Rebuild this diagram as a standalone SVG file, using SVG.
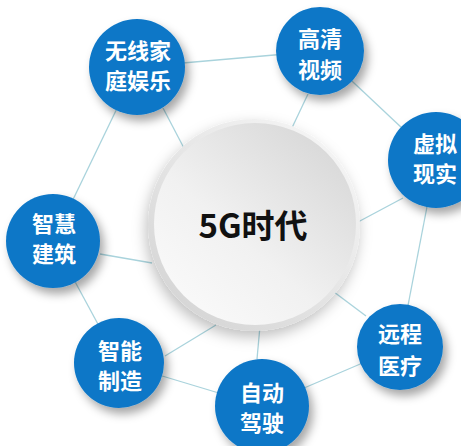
<svg xmlns="http://www.w3.org/2000/svg" width="461" height="446" viewBox="0 0 461 446">
  <defs>
    <filter id="sh" x="-30%" y="-30%" width="170%" height="170%">
      <feDropShadow dx="4" dy="6" stdDeviation="5" flood-color="#000" flood-opacity="0.35"/>
    </filter>
    <filter id="shBig" x="-20%" y="-20%" width="140%" height="140%">
      <feDropShadow dx="-2" dy="6" stdDeviation="7" flood-color="#000" flood-opacity="0.25"/>
    </filter>
    <linearGradient id="rim" x1="0.85" y1="0.1" x2="0.15" y2="0.9">
      <stop offset="0" stop-color="#f4f4f4"/>
      <stop offset="1" stop-color="#d6d6d6"/>
    </linearGradient>
    <linearGradient id="disc" x1="0.85" y1="0.1" x2="0.15" y2="0.9">
      <stop offset="0" stop-color="#d9d9d9"/>
      <stop offset="0.6" stop-color="#f1f1f1"/>
      <stop offset="1" stop-color="#f9f9f9"/>
    </linearGradient>
  </defs>
  <style>
    .conn line { stroke: #a9d3dc; stroke-width: 1.3; }
    .node circle { fill: #0c77c7; filter: url(#sh); }
    .node text { fill: #ffffff; font-family: "Noto Sans CJK SC", "Noto Sans", sans-serif; font-size: 22px; font-weight: bold; text-anchor: middle; }
    .hub text { fill: #111111; font-family: "Noto Sans CJK SC", "Noto Sans", sans-serif; font-size: 33px; font-weight: bold; text-anchor: middle; }
  </style>
  <rect width="461" height="446" fill="#ffffff"/>
  <g id="connectors" class="conn">
    <line x1="137" y1="67" x2="320" y2="51"/>
    <line x1="320" y1="51" x2="436" y2="160"/>
    <line x1="436" y1="160" x2="400" y2="347"/>
    <line x1="400" y1="347" x2="262" y2="406"/>
    <line x1="262" y1="406" x2="119" y2="363"/>
    <line x1="119" y1="363" x2="53" y2="241"/>
    <line x1="53" y1="241" x2="137" y2="67"/>
    <line x1="163" y1="108" x2="186" y2="152"/>
    <line x1="308" y1="94" x2="290" y2="132"/>
    <line x1="403" y1="198" x2="358" y2="222"/>
    <line x1="366" y1="316" x2="334" y2="292"/>
    <line x1="257" y1="359" x2="260" y2="326"/>
    <line x1="165" y1="356" x2="216" y2="325"/>
    <line x1="100" y1="254" x2="152" y2="263"/>
  </g>
  <g id="hub" class="hub">
    <circle cx="254" cy="225" r="106" fill="url(#rim)" filter="url(#shBig)"/>
    <circle cx="255" cy="224" r="101" fill="url(#disc)"/>
    <text x="253" y="238">5G时代</text>
  </g>
  <g id="n1" class="node">
    <circle cx="137" cy="67" r="48"/>
    <text x="138" y="59">无线家</text>
    <text x="138" y="89">庭娱乐</text>
  </g>
  <g id="n2" class="node">
    <circle cx="320" cy="51" r="44"/>
    <text x="320" y="47">高清</text>
    <text x="320" y="78">视频</text>
  </g>
  <g id="n3" class="node">
    <circle cx="436" cy="160" r="48"/>
    <text x="435" y="152">虚拟</text>
    <text x="435" y="182">现实</text>
  </g>
  <g id="n4" class="node">
    <circle cx="53" cy="241" r="47"/>
    <text x="54" y="232">智慧</text>
    <text x="54" y="262">建筑</text>
  </g>
  <g id="n5" class="node">
    <circle cx="119" cy="363" r="45"/>
    <text x="120" y="359">智能</text>
    <text x="120" y="389">制造</text>
  </g>
  <g id="n6" class="node">
    <circle cx="262" cy="406" r="47"/>
    <text x="262" y="401">自动</text>
    <text x="262" y="431">驾驶</text>
  </g>
  <g id="n7" class="node">
    <circle cx="400" cy="347" r="43"/>
    <text x="400" y="342">远程</text>
    <text x="400" y="374">医疗</text>
  </g>
</svg>
